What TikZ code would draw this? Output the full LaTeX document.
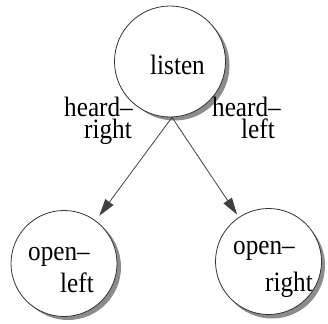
\documentclass[tikz,border=0pt]{standalone}
\usepackage{fontspec}
\setmainfont{Liberation Serif}
\usetikzlibrary{arrows.meta}
\newcommand{\narrow}[1]{\scalebox{0.9}[1]{#1}}
\tikzset{
  state/.style={circle, draw=black!80, line width=0.8pt, fill=white, inner sep=0pt},
  shade/.style={circle, fill=black!45, draw=none, inner sep=0pt},
  txt/.style={inner sep=0pt, font=\fontsize{28}{28}\selectfont},
  edge/.style={draw=black!75, line width=0.8pt,
    -{Triangle[length=17pt, width=10pt]}}
}
\begin{document}
\begin{tikzpicture}[x=1pt, y=-1pt]
  \useasboundingbox (0,0) rectangle (328,323);
  % drop shadows
  \node[shade, minimum size=110pt] at (174.5,65.5) {};
  \node[shade, minimum size=106pt] at (68,267) {};
  \node[shade, minimum size=106pt] at (272,265.5) {};
  % states
  \node[state, minimum size=111pt] (listen) at (170,61.5) {};
  \node[state, minimum size=106pt] (ol) at (64,263.5) {};
  \node[state, minimum size=106pt] (or) at (268.5,261.5) {};
  % state names
  \node[txt, anchor=base west] (tlisten) at (150,75) {\narrow{listen}};
  \node[txt, anchor=base west] (tol1) at (28,260) {\narrow{open–}};
  \node[txt, anchor=base west] (tol2) at (60,292) {\narrow{left}};
  \node[txt, anchor=base west] (tor1) at (233,254) {\narrow{open–}};
  \node[txt, anchor=base west] (tor2) at (265,291) {\narrow{right}};
  % transitions
  \coordinate (src) at ([xshift=2pt]listen.south);
  \draw[edge, shorten >=6pt] (src) -- (ol);
  \draw[edge, shorten >=3pt] (src) -- (or);
  % transition labels
  \node[txt, anchor=base east] (hr1) at (133,117) {\narrow{heard–}};
  \node[txt, anchor=base east] (hr2) at (132,138) {\narrow{right}};
  \node[txt, anchor=base west] (hl1) at (212,117) {\narrow{heard–}};
  \node[txt, anchor=base west] (hl2) at (241,138) {\narrow{left}};
\end{tikzpicture}
\end{document}
